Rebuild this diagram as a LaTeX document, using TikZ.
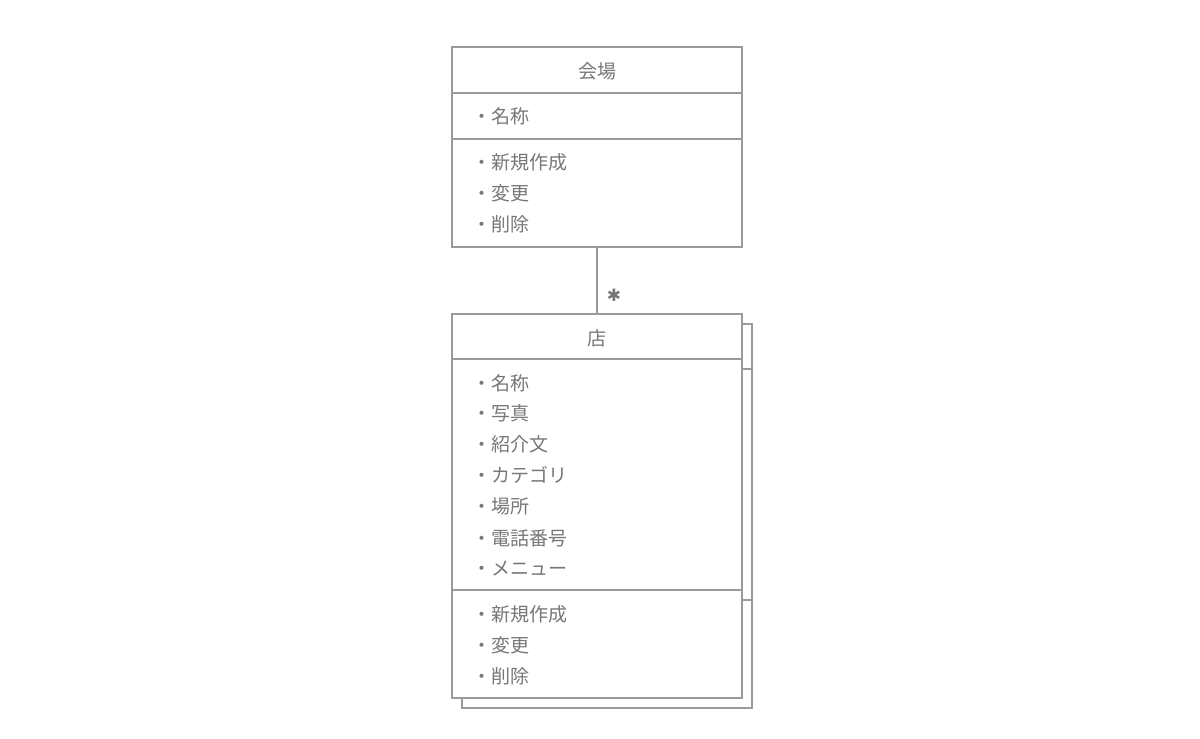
\documentclass[tikz,border=0pt]{standalone}
\usepackage{fontspec}
\setmainfont{Noto Sans CJK JP}
\newfontfamily\symfont{DejaVu Sans}
\definecolor{linegray}{HTML}{9A9A9A}
\definecolor{textgray}{HTML}{777777}
\tikzset{
  box/.style={draw=linegray, line width=1.2pt, fill=white, inner sep=0pt, minimum width=290pt},
  sep/.style={draw=linegray, line width=1.2pt},
  title/.style={text=textgray, font=\fontsize{19}{22}\selectfont, inner sep=0pt},
  item/.style={text=textgray, font=\fontsize{19}{22}\selectfont, anchor=west, inner sep=0pt},
  mult/.style={text=textgray, font=\symfont\fontsize{17}{20}\selectfont, inner sep=0pt},
  conn/.style={draw=linegray, line width=1.2pt}
}
\begin{document}
\begin{tikzpicture}[x=1pt,y=-1pt]
\useasboundingbox (0,0) rectangle (1200,739);
\fill[white] (0,0) rectangle (1200,739);
% venue class
\node[box, minimum height=200pt] (venue) at (597,147) {};
\draw[sep] (452,93) -- (742,93);
\draw[sep, line width=1.8pt] (452,139) -- (742,139);
\node[title] (venuetitle) at (597,71) {会場};
\node[item] (v1) at (472,116) {・名称};
\node[item] (v2) at (472,162) {・新規作成};
\node[item] (v3) at (472,193) {・変更};
\node[item] (v4) at (472,224) {・削除};
% shop class (stacked)
\node[box, minimum height=384pt] (shopback) at (607,516) {};
\draw[sep] (462,369) -- (752,369);
\draw[sep] (462,600) -- (752,600);
\node[box, minimum height=384pt] (shop) at (597,506) {};
\draw[sep] (452,359) -- (742,359);
\draw[sep] (452,590) -- (742,590);
\node[title] (shoptitle) at (597,338) {店};
\node[item] (s1) at (472,383) {・名称};
\node[item] (s2) at (472,413) {・写真};
\node[item] (s3) at (472,444) {・紹介文};
\node[item] (s4) at (472,475) {・カテゴリ};
\node[item] (s5) at (472,506) {・場所};
\node[item] (s6) at (472,538) {・電話番号};
\node[item] (s7) at (472,569) {・メニュー};
\node[item] (s8) at (472,614) {・新規作成};
\node[item] (s9) at (472,645) {・変更};
\node[item] (s10) at (472,676) {・削除};
% association
\draw[conn] (venue.south) -- (shop.north);
\node[mult] (star) at (614,295) {✱};
\end{tikzpicture}
\end{document}
